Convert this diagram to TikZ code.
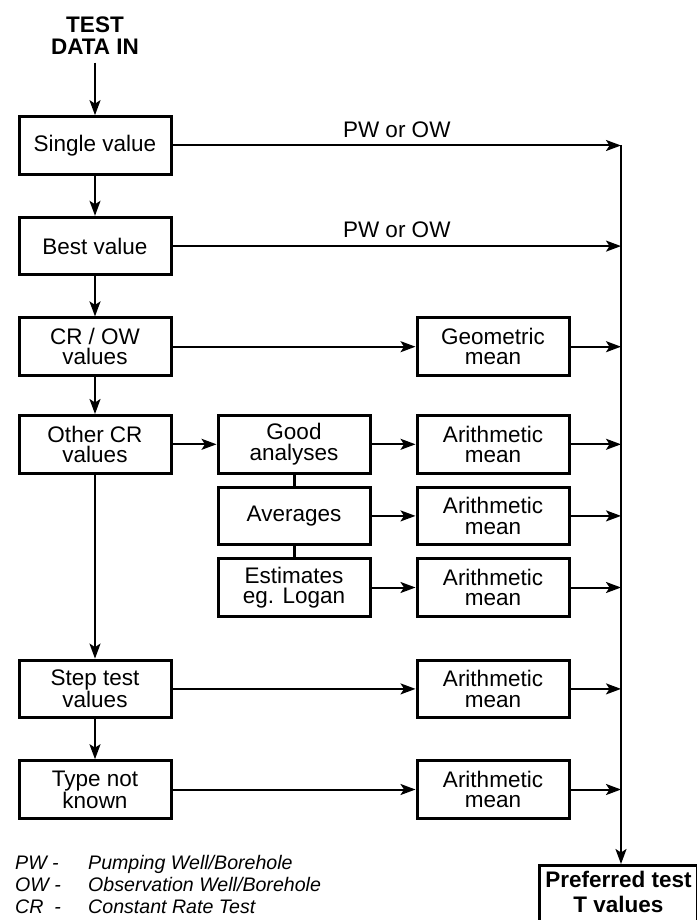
\documentclass[tikz,border=0pt]{standalone}
\usepackage{fontspec}
\setmainfont{Liberation Sans}
\usetikzlibrary{arrows.meta,positioning}

\begin{document}
\begin{tikzpicture}[x=1pt, y=1pt, >={Stealth[length=15pt,width=11pt,inset=3.5pt]},
    block/.style={rectangle, draw, line width=3pt, minimum width=152pt, minimum height=57.6pt, align=center, inner sep=3pt, font=\fontsize{22.5}{20.5}\selectfont},
    line/.style={draw, ->, line width=2pt},
    link/.style={draw, line width=3pt},
    tag/.style={above, inner sep=7pt, font=\fontsize{22.5}{20.5}\selectfont},
    key/.style={anchor=base west, inner sep=0pt, font=\fontsize{19.6}{22}\selectfont\itshape}]

    \useasboundingbox (0,0) rectangle (696,-920);

    % Input
    \node [anchor=north, align=center, inner sep=4pt, outer sep=4pt, font=\bfseries\fontsize{22.5}{22}\selectfont] (datain) at (95,-9) {TEST\\DATA IN};

    % Left column
    \node [block] (single) at (95,-145.5) {Single value};
    \node [block, below=40pt of single] (best) {Best value};
    \node [block, below=40pt of best] (crow) {CR / OW\\values};
    \node [block, below=37pt of crow] (other) {Other CR\\values};
    \node [block, below=184pt of other] (steptest) {Step test\\values};
    \node [block, below=40pt of steptest] (unknown) {Type not\\known};

    % Middle column
    \node [block, right=44pt of other] (good) {Good\\analyses};
    \node [block, below=11pt of good] (averages) {Averages};
    \node [block, below=11pt of averages] (estimates) {Estimates\\eg. Logan};

    % Right column
    \node [block, right=243pt of crow] (geomean) {Geometric\\mean};
    \node [block, right=44pt of good] (arithgood) {Arithmetic\\mean};
    \node [block, right=44pt of averages] (arithavg) {Arithmetic\\mean};
    \node [block, right=44pt of estimates] (arithest) {Arithmetic\\mean};
    \node [block, right=243pt of steptest] (arithstep) {Arithmetic\\mean};
    \node [block, right=243pt of unknown] (arithunknown) {Arithmetic\\mean};

    % Output
    \coordinate (trunk) at (621,-145.5);
    \node [block, anchor=north, minimum width=148pt, minimum height=0pt, inner sep=6pt, font=\bfseries\fontsize{22.5}{24.5}\selectfont] (preferred) at (618.5,-864) {Preferred test\\T values\rule[-12pt]{0pt}{12pt}};

    % Legend
    \node [key] (pwkey) at (15,-869) {PW -};
    \node [key] (owkey) at (15,-891) {OW -};
    \node [key] (crkey) at (15,-913) {CR \ -};
    \node [key] (pwtext) at (88,-869) {Pumping Well/Borehole};
    \node [key] (owtext) at (88,-891) {Observation Well/Borehole};
    \node [key] (crtext) at (88,-913) {Constant Rate Test};

    % Paths
    \path [line] (datain) -- (single);
    \path [line] (single) -- (best);
    \path [line] (best) -- (crow);
    \path [line] (crow) -- (other);
    \path [line] (other) -- (steptest);
    \path [line] (steptest) -- (unknown);
    \path [line] (single.east) -- node [tag] {PW or OW} (single.east -| trunk);
    \path [line] (best.east) -- node [tag] {PW or OW} (best.east -| trunk);
    \path [line] (crow) -- (geomean);
    \path [line] (other) -- (good);
    \path [link] (good) -- (averages);
    \path [link] (averages) -- (estimates);
    \path [line] (good) -- (arithgood);
    \path [line] (averages) -- (arithavg);
    \path [line] (estimates) -- (arithest);
    \path [line] (steptest) -- (arithstep);
    \path [line] (unknown) -- (arithunknown);
    \path [line] (geomean.east) -- (geomean.east -| trunk);
    \path [line] (arithgood.east) -- (arithgood.east -| trunk);
    \path [line] (arithavg.east) -- (arithavg.east -| trunk);
    \path [line] (arithest.east) -- (arithest.east -| trunk);
    \path [line] (arithstep.east) -- (arithstep.east -| trunk);
    \path [line] (arithunknown.east) -- (arithunknown.east -| trunk);
    \path [line] (trunk) -- (preferred.north -| trunk);

\end{tikzpicture}
\end{document}
